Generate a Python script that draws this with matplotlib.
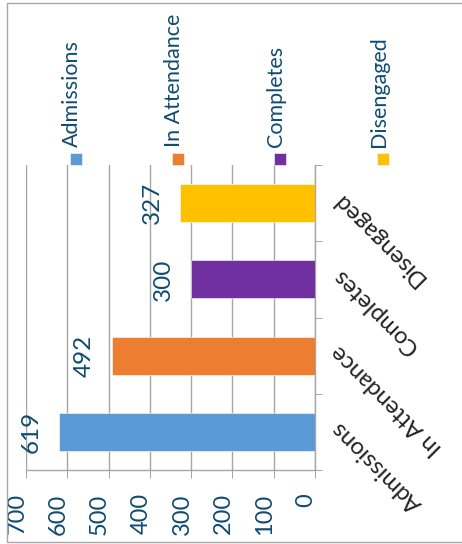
import matplotlib.pyplot as plt
import matplotlib.transforms as mtransforms
from matplotlib.patches import Rectangle

# ---------------- data ----------------
categories = ['Admissions', 'In Attendance', 'Completes', 'Disengaged']
values = [619, 492, 300, 327]
colors = ['#5B9BD5', '#ED7D31', '#7030A0', '#FFC000']
ticks = [0, 100, 200, 300, 400, 500, 600, 700]

txt_blue = '#104C72'
grid_c = '#A6A6A6'
font = 'Lato'

# ---------------- figure ----------------
W, H = 462, 544
fig = plt.figure(figsize=(W / 100, H / 100), dpi=100)
ax = fig.add_axes([26 / W, 1 - 470 / H, (315 - 26) / W, (470 - 165) / H])

# outer chart frame
fig.patches.append(Rectangle((6.5 / W, 2.5 / H), 1.2, (541.5 - 2.5) / H,
                             transform=fig.transFigure, fill=False,
                             edgecolor='#A6A6A6', lw=1.0))

ypos = list(range(len(categories)))
ax.barh(ypos, values, height=0.5, color=colors, edgecolor='white', linewidth=0.4, zorder=3)

ax.set_xlim(700, 0)
ax.set_ylim(-0.5, 3.5)

# grid + spines
ax.set_axisbelow(True)
ax.xaxis.grid(True, color=grid_c, lw=1.0)
for s in ['left', 'top']:
    ax.spines[s].set_visible(False)
for s in ['right', 'bottom']:
    ax.spines[s].set_color(grid_c)
    ax.spines[s].set_linewidth(1.0)

# value axis (bottom)
ax.set_xticks(ticks)
ax.set_xticklabels([str(t) for t in ticks], rotation=90, va='top', ha='center',
                   fontsize=17, color=txt_blue, family=font)
ax.tick_params(axis='x', direction='out', length=5.8, width=0.72, color=grid_c, pad=11)
shift = mtransforms.ScaledTranslation(-9 / 100, 0, fig.dpi_scale_trans)
for lab in ax.get_xticklabels():
    lab.set_transform(lab.get_transform() + shift)

# category axis (right)
ax.yaxis.tick_right()
ax.set_yticks(ypos)
ax.set_yticks([-0.5, 0.5, 1.5, 2.5, 3.5], minor=True)
ax.set_yticklabels(categories, rotation=135, rotation_mode='anchor', ha='right', va='top',
                   fontsize=17, color='#222222', family=font)
ax.tick_params(axis='y', which='major', length=0, pad=9.5)
ax.tick_params(axis='y', which='minor', direction='out', length=5, width=0.72, color=grid_c)

# data labels
for y, v in zip(ypos, values):
    ax.annotate(str(v), xy=(v, y), xytext=(-28, 0), textcoords='offset pixels',
                rotation=90, ha='center', va='center', fontsize=17.5,
                color=txt_blue, family=font)

# ---------------- legend (rotated) ----------------
leg_x = [76, 178, 280, 383]
for name, c, xm in zip(categories, colors, leg_x):
    fig.patches.append(Rectangle(((xm - 6) / W, 1 - 165 / H), 12 / W, 12 / H,
                                 transform=fig.transFigure, facecolor=c,
                                 edgecolor='white', lw=0.4))
    fig.text((xm - 4) / W, 1 - 147 / H, name, rotation=90, ha='center', va='bottom',
             fontsize=15.5, color=txt_blue, family=font)

fig.savefig('out.png', dpi=100)
